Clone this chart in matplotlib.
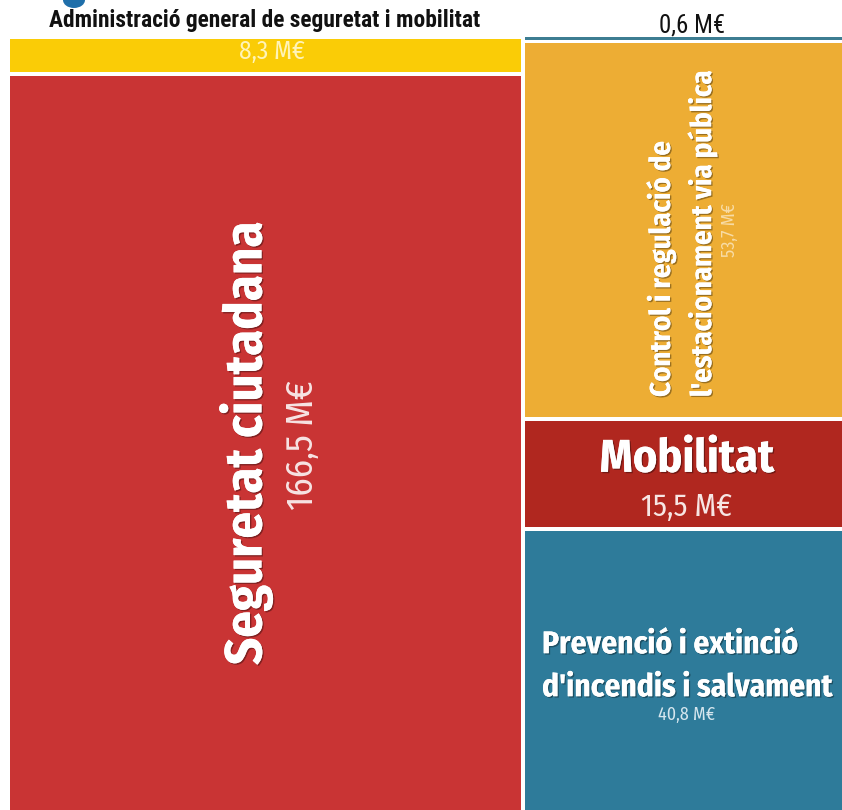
import matplotlib
matplotlib.use("Agg")
import matplotlib.pyplot as plt
from matplotlib.patches import Rectangle, Ellipse
from matplotlib import font_manager as fm
import matplotlib.patheffects as pe

# ---------------- data ----------------
left_names = ["Administració general de seguretat i mobilitat", "Seguretat ciutadana"]
left_values = [8.3, 166.5]
right_names = ["Administració (0,6)", "Control i regulació de l'estacionament via pública",
               "Mobilitat", "Prevenció i extinció d'incendis i salvament"]
right_values = [0.6, 53.7, 15.5, 40.8]
left_colors = ["#FACC06", "#C93434"]
right_colors = ["#3D7D92", "#EDAD34", "#B0271F", "#2E7B9A"]
value_labels_left = ["8,3 M€", "166,5 M€"]
value_labels_right = ["0,6 M€", "53,7 M€", "15,5 M€", "40,8 M€"]

W, H = 842, 810
fig = plt.figure(figsize=(W / 100, H / 100), dpi=100)
fig.patch.set_facecolor("white")

# font choice
names = {f.name for f in fm.fontManager.ttflist}
family = "DejaVu Sans"
for cand in ["Fira Sans Condensed", "Roboto Condensed", "Liberation Sans Narrow"]:
    if cand in names:
        family = cand
        break
head_family = "Roboto Condensed" if "Roboto Condensed" in names else family

# treemap axes (pixel geometry of the reference)
ax_left, ax_top, ax_w, ax_h = 8, 37, 841, 779
ax = fig.add_axes([ax_left / W, (H - ax_top - ax_h) / H, ax_w / W, ax_h / H])
ax.set_xlim(0, 1)
ax.set_ylim(1, 0)
ax.axis("off")

gx = 4.0 / ax_w
gy = 4.0 / ax_h
total = sum(left_values) + sum(right_values)
left_w = sum(left_values) / total


def column(values, colors, x0, w):
    s = sum(values)
    y = 0.0
    for v, c in zip(values, colors):
        h = v / s
        rx, rw = x0 + gx / 2, w - gx
        if h - gy < 3.0 / ax_h:
            ry, rh = y, 3.0 / ax_h
        else:
            ry, rh = y + gy / 2, h - gy
        ax.add_patch(Rectangle((rx, ry), rw, rh, facecolor=c, edgecolor="none"))
        y += h


column(left_values, left_colors, 0.0, left_w)
column(right_values, right_colors, left_w, 1 - left_w)

renderer = fig.canvas.get_renderer()


def P(x, y):
    return (x / W, 1 - y / H)


shadow = [pe.withSimplePatchShadow(offset=(1, -1), shadow_rgbFace="black", alpha=0.35), pe.Normal()]


def txt(s, x, y, target, vertical=False, color="white", weight="bold", ha="center", va="center",
        effects=None, size=None, fam=None):
    t = fig.text(*P(x, y), s, transform=fig.transFigure, color=color, fontweight=weight,
                 family=fam or family, ha=ha, va=va,
                 rotation=90 if vertical else 0, fontsize=20)
    if effects:
        t.set_path_effects(effects)
    if size is not None:
        t.set_fontsize(size)
    else:
        bb = t.get_window_extent(renderer)
        cur = bb.height if vertical else bb.width
        t.set_fontsize(20 * target / cur)
    return t


# fragment of a cropped heading glyph at the very top
fig.patches.append(Ellipse(P(74, 0), 22 / W, 16 / H, transform=fig.transFigure,
                           facecolor="#1F6FAA", edgecolor="none"))

# header labels
txt(left_names[0], 265, 21, 430, color="#111111", fam=head_family)
txt(value_labels_right[0], 692, 26, 66, color="#111111", weight="normal", fam=head_family)

# yellow value
txt(value_labels_left[0], 272, 52, 66, color="#FFF4B8", weight="normal")

# Seguretat ciutadana
txt("Seguretat ciutadana", 246, 443, 445, vertical=True, effects=shadow)
txt(value_labels_left[1], 303, 445, 130, vertical=True, color="#F7E4E4", weight="normal")

# Control i regulació
t2 = txt("l'estacionament via pública", 702, 397, 327, vertical=True, va="bottom", effects=shadow)
txt("Control i regulació de", 661, 397, 0, vertical=True, va="bottom", effects=shadow,
    size=t2.get_fontsize())
txt(value_labels_right[1], 730, 230, 54, vertical=True, color="#F8DCA6", weight="normal")

# Mobilitat
txt("Mobilitat", 687, 460, 175, effects=shadow)
txt(value_labels_right[2], 687, 507, 91, color="#F7E6E4", weight="normal")

# Prevenció
t3 = txt("d'incendis i salvament", 542, 688, 291, ha="left", effects=shadow)
txt("Prevenció i extinció", 542, 645, 0, ha="left", effects=shadow, size=t3.get_fontsize())
txt(value_labels_right[3], 687, 715, 57, color="#D6E6EE", weight="normal")

fig.savefig("out.png", dpi=100)
